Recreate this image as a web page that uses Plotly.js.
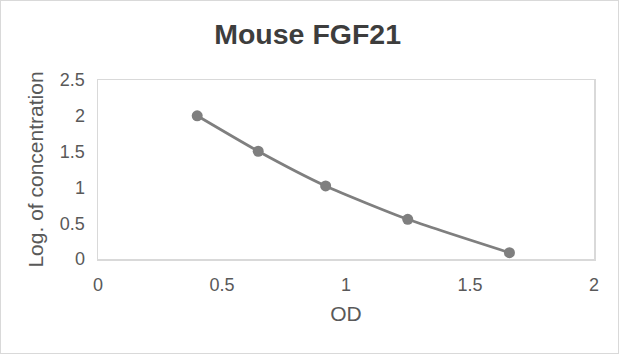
<!DOCTYPE html>
<html>
<head>
<meta charset="utf-8">
<script src="https://cdn.plot.ly/plotly-3.0.1.min.js"></script>
<style>
  html, body { margin: 0; padding: 0; background: #fff; }
  #wrap { width: 619px; height: 354px; box-sizing: border-box; border: 1px solid #d9d9d9; }
  #chart { width: 617px; height: 352px; }
</style>
</head>
<body>
<div id="wrap"><div id="chart"></div></div>
<script>
const odValues = [0.40, 0.646, 0.918, 1.249, 1.659];
const logConcentration = [2.0, 1.505, 1.02, 0.554, 0.088];
const xTicks = [0, 0.5, 1, 1.5, 2];
const yTicks = [0, 0.5, 1, 1.5, 2, 2.5];

const trace = {
  x: odValues,
  y: logConcentration,
  type: 'scatter',
  mode: 'lines+markers',
  line: { color: '#7f7f7f', width: 2.75, shape: 'spline', smoothing: 0.6 },
  marker: { color: '#7f7f7f', size: 11 },
  hoverinfo: 'none'
};

const layout = {
  width: 617,
  height: 352,
  margin: { l: 97, r: 24, t: 79, b: 94 },
  paper_bgcolor: '#ffffff',
  plot_bgcolor: '#ffffff',
  showlegend: false,
  font: { family: 'Liberation Sans, Arial, sans-serif', color: '#595959', size: 18 },
  title: {
    text: '<b>Mouse FGF21</b>',
    font: { family: 'Liberation Sans, Arial, sans-serif', size: 28.5, color: '#3d3d3d' },
    x: 0.497, xref: 'container', xanchor: 'center',
    y: 0.906, yref: 'container', yanchor: 'middle'
  },
  xaxis: {
    range: [0, 2],
    tickvals: xTicks,
    ticktext: xTicks.map(String),
    showgrid: false,
    zeroline: false,
    showline: true,
    mirror: true,
    linecolor: '#d9d9d9',
    linewidth: 1.5,
    ticks: '',
    ticklabelstandoff: 9,
    tickfont: { size: 18, color: '#595959' },
    title: { text: 'OD', font: { size: 21, color: '#595959' }, standoff: 12 }
  },
  yaxis: {
    range: [0, 2.5],
    tickvals: yTicks,
    ticktext: yTicks.map(String),
    showgrid: false,
    zeroline: false,
    showline: true,
    mirror: true,
    linecolor: '#d9d9d9',
    linewidth: 1.5,
    ticks: '',
    ticklabelstandoff: 8,
    tickfont: { size: 18, color: '#595959' },
    title: { text: 'Log. of concentration', font: { size: 21, color: '#595959' }, standoff: 10 }
  }
};

Plotly.newPlot('chart', [trace], layout, { displayModeBar: false, staticPlot: true });
</script>
</body>
</html>
